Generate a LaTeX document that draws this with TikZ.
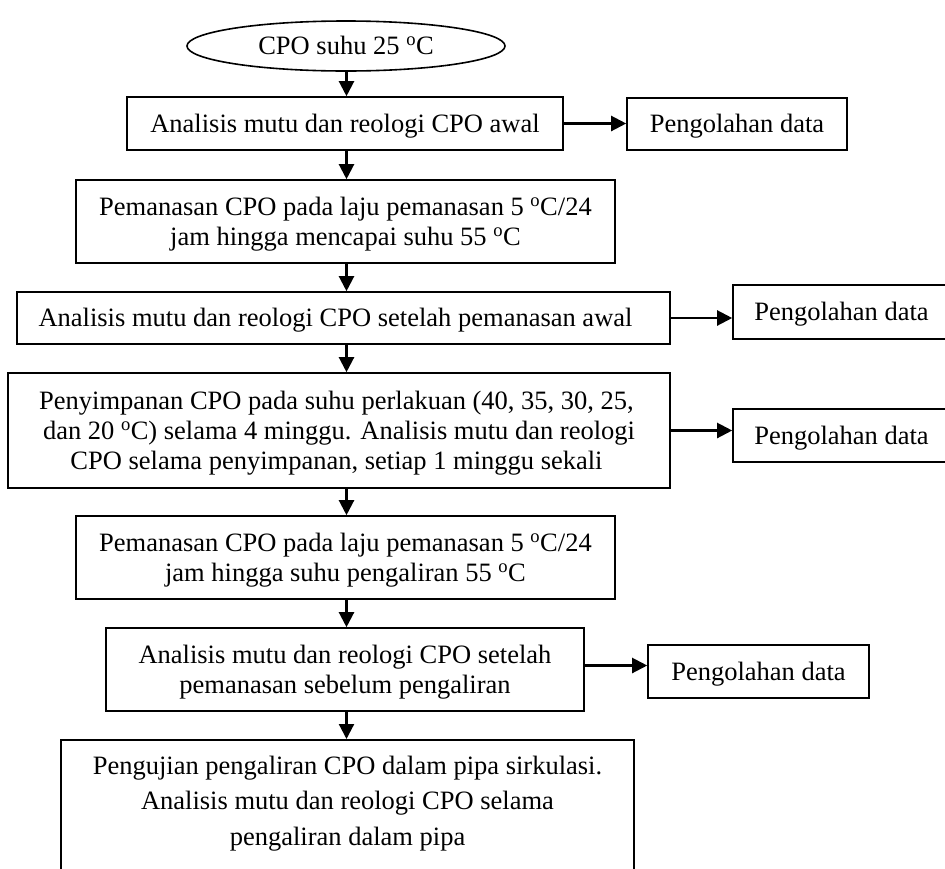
\documentclass[tikz,border=0pt]{standalone}
\usepackage{fontspec}
\setmainfont{Liberation Serif}
\usetikzlibrary{shapes.geometric,arrows.meta}
\newcommand\fstrut{\rule[-6.25pt]{0pt}{30pt}}
\newcommand\gstrut{\rule[-9pt]{0pt}{35.5pt}}
\newcommand\degc{\textsuperscript{o}C}
\begin{document}
\begin{tikzpicture}[x=1pt,y=-1pt,
  box/.style={draw, line width=1.6pt, rectangle, inner sep=0pt, align=center,
    font=\fontsize{26.5}{30}\selectfont},
  oval/.style={draw, line width=1.6pt, ellipse, inner sep=0pt, align=center,
    font=\fontsize{26.5}{30}\selectfont},
  arr/.style={line width=2.2pt, -{Triangle[length=15pt,width=15pt]}},
]
\useasboundingbox (0,0) rectangle (945,868);
\clip (0,0) rectangle (945,868);

\node[oval, minimum width=318pt, minimum height=50pt] (e0) at (346,46) {\fstrut CPO suhu 25 \degc};

\node[box, minimum width=436pt, minimum height=53pt] (b1) at (345,123.5)
  {\fstrut Analisis mutu dan reologi CPO awal};
\node[box, minimum width=220pt, minimum height=52pt] (p1) at (737,124)
  {\fstrut Pengolahan data};

\node[box, minimum width=539pt, minimum height=83pt] (b2) at (345.5,221.5)
  {\fstrut Pemanasan CPO pada laju pemanasan 5 \degc/24\\
   \fstrut jam hingga mencapai suhu 55 \degc};

\node[box, minimum width=653pt, minimum height=52pt] (b3) at (343.5,318)
  {\fstrut Analisis mutu dan reologi CPO setelah pemanasan awal\hspace*{16pt}};
\node[box, minimum width=217pt, minimum height=54pt] (p2) at (841.5,312)
  {\fstrut Pengolahan data};

\node[box, minimum width=662pt, minimum height=115pt] (b4) at (339,430.5)
  {\fstrut Penyimpanan CPO pada suhu perlakuan (40, 35, 30, 25,\hspace*{5pt}\\
   \fstrut dan 20 \degc) selama 4 minggu. Analisis mutu dan reologi\hspace*{5pt}\\
   \fstrut CPO selama penyimpanan, setiap 1 minggu sekali\hspace*{5pt}};
\node[box, minimum width=217pt, minimum height=53pt] (p3) at (841.5,435.5)
  {\fstrut Pengolahan data};

\node[box, minimum width=539pt, minimum height=83pt] (b5) at (345.5,557.5)
  {\fstrut Pemanasan CPO pada laju pemanasan 5 \degc/24\\
   \fstrut jam hingga suhu pengaliran 55 \degc};

\node[box, minimum width=478pt, minimum height=83pt] (b6) at (345,669.5)
  {\fstrut Analisis mutu dan reologi CPO setelah\\
   \fstrut pemanasan sebelum pengaliran};
\node[box, minimum width=221pt, minimum height=53pt] (p4) at (758.5,671.5)
  {\fstrut Pengolahan data};

\node[box, anchor=north, minimum width=573pt, minimum height=161pt] (b7) at (347.5,739) {};
\node[inner sep=0pt, align=center, font=\fontsize{26.5}{35.5}\selectfont] (t7) at (347.5,800.75)
  {\gstrut Pengujian pengaliran CPO dalam pipa sirkulasi.\\
   \gstrut Analisis mutu dan reologi CPO selama\\
   \gstrut pengaliran dalam pipa};

\coordinate (sp) at (346.5,0);
\draw[arr] (e0.south -| sp) -- (b1.north -| sp);
\draw[arr] (b1.south -| sp) -- (b2.north -| sp);
\draw[arr] (b2.south -| sp) -- (b3.north -| sp);
\draw[arr] (b3.south -| sp) -- (b4.north -| sp);
\draw[arr] (b4.south -| sp) -- (b5.north -| sp);
\draw[arr] (b5.south -| sp) -- (b6.north -| sp);
\draw[arr] (b6.south -| sp) -- (b7.north -| sp);

\draw[arr] (b1.east) -- (b1.east -| p1.west);
\draw[arr] (b3.east) -- (b3.east -| p2.west);
\draw[arr] (b4.east) -- (b4.east -| p3.west);
\draw[arr] ([yshift=4pt]b6.east) -- ([yshift=4pt]b6.east -| p4.west);
\end{tikzpicture}
\end{document}
